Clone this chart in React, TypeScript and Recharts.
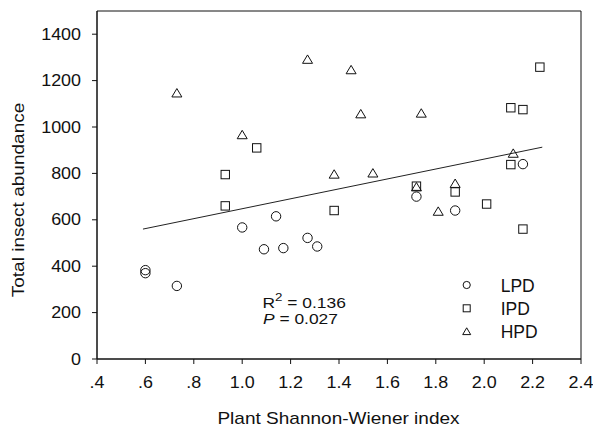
import React from "react";
import { ScatterChart, Scatter, XAxis, YAxis, ReferenceArea } from "recharts";

const xTicks = [0.4, 0.6, 0.8, 1.0, 1.2, 1.4, 1.6, 1.8, 2.0, 2.2, 2.4];
const yTicks = [0, 200, 400, 600, 800, 1000, 1200, 1400];

const lpdX = [0.6, 0.6, 0.73, 1.0, 1.09, 1.14, 1.17, 1.27, 1.31, 1.72, 1.88, 2.16];
const lpdY = [383, 370, 315, 567, 473, 615, 478, 522, 485, 700, 640, 840];

const ipdX = [0.93, 0.93, 1.06, 1.38, 1.72, 1.88, 2.01, 2.11, 2.11, 2.16, 2.16, 2.23];
const ipdY = [795, 660, 910, 640, 745, 720, 668, 1083, 838, 1075, 560, 1258];

const hpdX = [0.73, 1.0, 1.27, 1.38, 1.45, 1.49, 1.54, 1.72, 1.74, 1.81, 1.88, 2.12];
const hpdY = [1145, 965, 1290, 795, 1245, 1055, 800, 740, 1058, 635, 755, 885];

const fitX = [0.59, 2.24];
const fitY = [560, 913];

const seriesNames = ["LPD", "IPD", "HPD"];

const zip = (xs: number[], ys: number[]) => xs.map((x, i) => ({ x, y: ys[i] }));

const lpdData = zip(lpdX, lpdY);
const ipdData = zip(ipdX, ipdY);
const hpdData = zip(hpdX, hpdY);
const fitData = zip(fitX, fitY);

const FONT = "Arial, 'Liberation Sans', sans-serif";
const INK = "#111";
const SX = 1.12;

const CircleShape = (props: any) => (
  <circle cx={props.cx} cy={props.cy} r={4.7} fill="none" stroke={INK} strokeWidth={1} />
);
const SquareShape = (props: any) => (
  <rect x={props.cx - 4.2} y={props.cy - 4.2} width={8.4} height={8.4} fill="none" stroke={INK} strokeWidth={1} />
);
const TriangleShape = (props: any) => (
  <path
    d={`M${props.cx},${props.cy - 4.8} L${props.cx + 5},${props.cy + 3.6} L${props.cx - 5},${props.cy + 3.6} Z`}
    fill="none"
    stroke={INK}
    strokeWidth={1}
  />
);
const NoShape = () => <g />;

const fmtX = (v: number) => (v < 1 ? v.toFixed(1).slice(1) : v.toFixed(1));

const XTick = (props: any) => (
  <text
    transform={`translate(${props.x},${props.y}) scale(${SX},1)`}
    x={0}
    y={0}
    dy="0.71em"
    textAnchor="middle"
    fontSize={16}
    fill="#111"
    fontFamily={FONT}
  >
    {fmtX(props.payload.value)}
  </text>
);

const YTick = (props: any) => (
  <text
    transform={`translate(${props.x},${props.y}) scale(${SX},1)`}
    x={0}
    y={0}
    dy="0.355em"
    textAnchor="end"
    fontSize={16}
    fill="#111"
    fontFamily={FONT}
  >
    {props.payload.value}
  </text>
);

export default function App() {
  return (
    <div style={{ position: "absolute", left: 0, top: 0, width: 593, height: 429, background: "#fff" }}>
      <ScatterChart
        width={593}
        height={429}
        margin={{ top: 11, right: 12, bottom: 0, left: 0 }}
        style={{ fontFamily: FONT }}
      >
        <XAxis
          type="number"
          dataKey="x"
          domain={[0.4, 2.4]}
          ticks={xTicks}
          height={70}
          tickSize={5}
          tickMargin={13}
          stroke={INK}
          tick={XTick}
          allowDataOverflow
        />
        <YAxis
          type="number"
          dataKey="y"
          domain={[0, 1500]}
          ticks={yTicks}
          width={97}
          tickSize={5}
          tickMargin={11}
          stroke={INK}
          tick={YTick}
          allowDataOverflow
        />
        <ReferenceArea x1={0.4} x2={2.4} y1={0} y2={1500} fill="none" stroke={INK} strokeWidth={1} />
        <Scatter
          name="fit"
          data={fitData}
          line={{ stroke: "#222", strokeWidth: 1 }}
          shape={NoShape}
          isAnimationActive={false}
        />
        <Scatter name={seriesNames[0]} data={lpdData} shape={CircleShape} isAnimationActive={false} />
        <Scatter name={seriesNames[1]} data={ipdData} shape={SquareShape} isAnimationActive={false} />
        <Scatter name={seriesNames[2]} data={hpdData} shape={TriangleShape} isAnimationActive={false} />

        <text
          transform={`translate(338.5,424) scale(${SX},1)`}
          x={0}
          y={0}
          textAnchor="middle"
          fontSize={17}
          fill="#111"
          fontFamily={FONT}
        >
          Plant Shannon-Wiener index
        </text>
        <text
          transform={`translate(24,200) rotate(-90) scale(${SX},1)`}
          x={0}
          y={0}
          textAnchor="middle"
          fontSize={17}
          fill="#111"
          fontFamily={FONT}
        >
          Total insect abundance
        </text>

        <text
          transform={`translate(262.5,307.5) scale(1.16,1)`}
          x={0}
          y={0}
          fontSize={15}
          fill="#111"
          fontFamily={FONT}
        >
          R
          <tspan dy={-7} fontSize={11.5}>2</tspan>
          <tspan dy={7}> = 0.136</tspan>
        </text>
        <text
          transform={`translate(263,324) scale(1.16,1)`}
          x={0}
          y={0}
          fontSize={15}
          fill="#111"
          fontFamily={FONT}
        >
          <tspan fontStyle="italic">P</tspan> = 0.027
        </text>

        <g>
          <circle cx={466.7} cy={285} r={3.6} fill="none" stroke={INK} strokeWidth={1} />
          <rect x={463.2} y={304.8} width={7} height={7} fill="none" stroke={INK} strokeWidth={1} />
          <path d="M466.7,327.8 L470.7,334.6 L462.7,334.6 Z" fill="none" stroke={INK} strokeWidth={1} />
          <text x={500.7} y={291.7} fontSize={17.5} fill="#111" fontFamily={FONT}>{seriesNames[0]}</text>
          <text x={500.7} y={314.7} fontSize={17.5} fill="#111" fontFamily={FONT}>{seriesNames[1]}</text>
          <text x={500.7} y={338} fontSize={17.5} fill="#111" fontFamily={FONT}>{seriesNames[2]}</text>
        </g>
      </ScatterChart>
    </div>
  );
}
